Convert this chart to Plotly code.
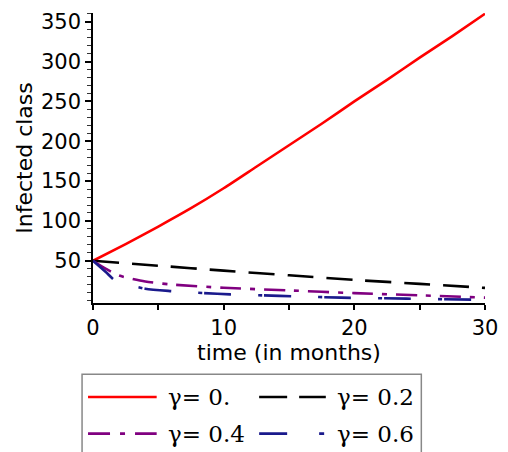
import plotly.graph_objects as go

# ---- data ----
t_red = [0, 2.5, 5, 7.5, 10, 12.5, 15, 17.5, 20, 22.5, 25, 27.5, 30]
i_red = [50, 71, 93, 116, 141, 168, 195, 222, 250, 277, 305, 332, 360]

t_black = [0, 5, 10, 15, 20, 25, 30]
i_black = [50, 43.8, 37.6, 31.8, 26, 21, 16]

t_purple = [0, 1, 2, 4, 6, 10, 15, 20, 25, 30]
i_purple = [50, 39.7, 31.4, 24, 20.2, 16.1, 12.8, 9.4, 6.6, 3.7]

t_blue = [0, 1, 1.7, 4, 6, 8.5, 10.5, 13, 15.5, 19, 24, 29, 30]
i_blue = [50, 35.5, 25.2, 14.9, 11.9, 9.4, 7.8, 6.6, 5.3, 3.7, 2.5, 1.2, 1.0]

names = ["γ= 0.", "γ= 0.2", "γ= 0.4", "γ= 0.6"]
colors = ["#ff0000", "#000000", "#800080", "#1a1a8c"]
dashes = ["solid", "26px,13px", "21px,9px,5px,9px", "27px,27px,4px,2px"]
legend_dashes = ["solid", "28px,12px", "22px,10px,5px,10px", "28px,32px,5px,5px"]

x_ticks = [0, 10, 20, 30]
y_ticks = [50, 100, 150, 200, 250, 300, 350]

series = [(t_red, i_red), (t_black, i_black), (t_purple, i_purple), (t_blue, i_blue)]

W, H = 508, 452
L, R, T, B = 93, 21, 10, 149
PW, PH = W - L - R, H - T - B

def px(x):
    return (x - L) / PW

def py(y):
    return (H - B - y) / PH

fig = go.Figure()
for (tx, ty), n, c, d in zip(series, names, colors, dashes):
    fig.add_trace(go.Scatter(x=tx, y=ty, mode="lines", name=n, showlegend=False,
                             line=dict(color=c, width=2.6, dash=d, shape="spline", smoothing=0.6)))

axis_font = dict(family="DejaVu Sans", size=21, color="#000000")

fig.update_layout(
    width=W, height=H,
    margin=dict(l=L, r=R, t=T, b=B),
    paper_bgcolor="white", plot_bgcolor="white",
    showlegend=False,
    xaxis=dict(range=[0, 30], tickvals=x_ticks, ticktext=[str(v) for v in x_ticks],
               showgrid=False, zeroline=False, showline=True, linecolor="#000", linewidth=1.5,
               ticks="outside", ticklen=5, tickcolor="#000", tickwidth=1.5,
               minor=dict(dtick=5, ticks="outside", ticklen=5, tickcolor="#000", tickwidth=1.5),
               tickfont=axis_font,
               title=dict(text="time (in months)", font=dict(family="DejaVu Sans", size=22, color="#000"), standoff=0)),
    yaxis=dict(range=[-3, 361], tickvals=y_ticks, ticktext=[str(v) for v in y_ticks],
               showgrid=False, zeroline=False, showline=True, linecolor="#000", linewidth=1.5,
               ticks="outside", ticklen=6, tickcolor="#000", tickwidth=1.5,
               minor=dict(dtick=10, tick0=0, ticks="outside", ticklen=4, tickcolor="#333", tickwidth=1),
               tickfont=axis_font,
               title=dict(text="Infected class", font=dict(family="DejaVu Sans", size=22, color="#000"), standoff=2)),
)

# ---- legend drawn manually (box, line samples, labels) ----
fig.add_shape(type="rect", xref="paper", yref="paper",
              x0=px(82), x1=px(423), y0=py(462), y1=py(375),
              line=dict(color="#888888", width=1.5), fillcolor="rgba(0,0,0,0)", layer="above")

rows = [398, 398, 435, 435]
line_x = [(88, 157), (260, 327), (88, 157), (260, 327)]
text_x = [166, 336, 166, 336]
for i in range(4):
    x0, x1 = line_x[i]
    fig.add_shape(type="line", xref="paper", yref="paper",
                  x0=px(x0), x1=px(x1), y0=py(rows[i]), y1=py(rows[i]),
                  line=dict(color=colors[i], width=2.6, dash=legend_dashes[i]))
    fig.add_annotation(xref="paper", yref="paper", x=px(text_x[i]), y=py(rows[i]),
                       xanchor="left", yanchor="middle", showarrow=False,
                       text=names[i], font=dict(family="DejaVu Serif", size=23, color="#000"))

fig.write_html("out.html")
